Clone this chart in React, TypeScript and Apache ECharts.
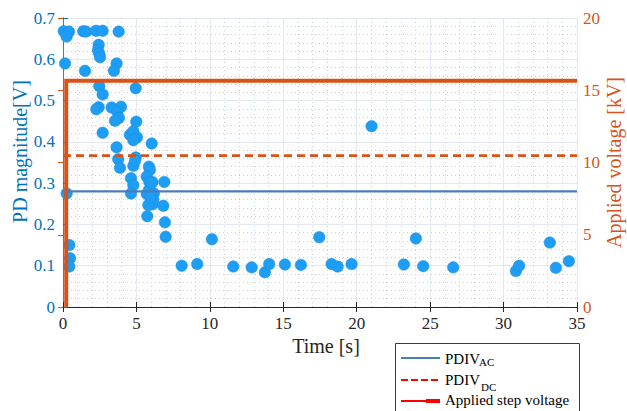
import React, { useEffect, useRef } from "react";
import * as echarts from "echarts";

// ---- data ----
const timeS: number[] = [
  0.05, 0.41, 0.25, 0.14, 1.38, 1.57, 1.5, 2.25, 2.7, 3.79,
  2.43, 2.38, 2.47, 2.52, 3.65, 3.47, 2.47, 2.7, 4.95, 2.43,
  2.27, 3.31, 3.95, 3.7, 3.81, 3.54, 4.99, 2.7, 4.56, 4.79,
  5.04, 4.79, 3.65, 6.04, 4.95, 3.76, 3.88, 4.79, 4.9, 5.85,
  5.92, 5.7, 4.63, 6.08, 6.9, 5.88, 4.79, 4.63, 0.25, 5.7,
  5.85, 6.19, 6.15, 6.1, 5.81, 5.74, 6.83, 6.94, 6.99, 6.04,
  5.95, 0.43, 0.48, 0.43, 8.08, 9.14, 10.14, 11.59, 12.85, 13.75,
  14.04, 15.11, 16.2, 17.45, 18.29, 18.7, 19.65, 21.01, 23.21, 24.03,
  24.53, 26.57, 30.84, 31.06, 33.15, 33.56, 34.45,
];
const pdV: number[] = [
  0.668, 0.667, 0.655, 0.59, 0.668, 0.667, 0.572, 0.669, 0.669, 0.667,
  0.635, 0.622, 0.614, 0.605, 0.59, 0.572, 0.535, 0.515, 0.53, 0.484,
  0.479, 0.483, 0.485, 0.473, 0.458, 0.451, 0.449, 0.422, 0.417, 0.426,
  0.411, 0.404, 0.387, 0.396, 0.362, 0.358, 0.337, 0.342, 0.354, 0.34,
  0.332, 0.316, 0.312, 0.303, 0.303, 0.303, 0.295, 0.275, 0.275, 0.274,
  0.283, 0.275, 0.259, 0.249, 0.247, 0.22, 0.245, 0.205, 0.17, 0.3,
  0.265, 0.15, 0.118, 0.098, 0.1, 0.104, 0.164, 0.098, 0.096, 0.084,
  0.104, 0.103, 0.102, 0.169, 0.104, 0.098, 0.104, 0.438, 0.103, 0.166,
  0.099, 0.096, 0.087, 0.1, 0.156, 0.095, 0.111,
];
const pdivAcKV = 8.0;
const pdivDcKV = 10.47;
const stepTimeS: number[] = [0.22, 0.22, 35];
const stepKV: number[] = [0, 15.65, 15.65];
const xRange: number[] = [0, 35];

const legendLabels = ["PDIV", "AC", "PDIV", "DC", "Applied step voltage"];

const FONT = "Liberation Serif";
const BLUE = "#0072BD";
const ORANGE = "#D95319";
const DARK = "#262626";

export default function App() {
  const ref = useRef<HTMLDivElement>(null);
  useEffect(() => {
    if (!ref.current) return;
    const chart = echarts.init(ref.current, undefined, { renderer: "svg" });
    const scatterData = timeS.map((t, i) => [t, pdV[i]]);
    const majorGrid = { show: true, lineStyle: { color: "#e3e9ef", width: 1.2 } };
    const minorGrid = { show: true, lineStyle: { color: "#c8d1da", width: 1, type: [1, 3] as any } };
    chart.setOption({
      animation: false,
      backgroundColor: "#fff",
      textStyle: { fontFamily: FONT },
      grid: { left: 63, right: 50, top: 18, bottom: 104, containLabel: false, outerBoundsMode: "none" },
      xAxis: [
        {
          type: "value",
          position: "bottom",
          min: 0,
          max: 35,
          interval: 5,
          name: "Time [s]",
          nameLocation: "middle",
          nameGap: 29,
          nameMoveOverlap: false,
          nameTextStyle: { fontFamily: FONT, fontSize: 20, color: DARK, padding: [0, 0, 0, 12] },
          axisLine: { show: true, lineStyle: { color: DARK, width: 1 } },
          axisTick: { show: true, inside: true, length: 5, lineStyle: { color: DARK } },
          axisLabel: { fontFamily: FONT, fontSize: 17, color: DARK, margin: 8 },
          splitLine: majorGrid,
          minorTick: { show: false, splitNumber: 5 },
          minorSplitLine: minorGrid,
        },
        {
          type: "value",
          position: "top",
          min: 0,
          max: 35,
          interval: 5,
          axisLine: { show: true, lineStyle: { color: DARK, width: 1 } },
          axisTick: { show: true, inside: true, length: 5, lineStyle: { color: DARK } },
          axisLabel: { show: false },
          splitLine: { show: false },
        },
      ],
      yAxis: [
        {
          type: "value",
          position: "left",
          min: 0,
          max: 0.7,
          interval: 0.1,
          name: "PD magnitude[V]",
          nameLocation: "middle",
          nameRotate: 90,
          nameGap: 33,
          nameMoveOverlap: false,
          nameTextStyle: { fontFamily: FONT, fontSize: 20, color: BLUE, padding: [0, 0, 0, 22] },
          axisLine: { show: true, lineStyle: { color: BLUE, width: 1 } },
          axisTick: { show: true, inside: true, length: 5, lineStyle: { color: BLUE } },
          axisLabel: { fontFamily: FONT, fontSize: 17, color: BLUE, margin: 8 },
          splitLine: majorGrid,
          minorTick: { show: false, splitNumber: 5 },
          minorSplitLine: minorGrid,
        },
        {
          type: "value",
          position: "right",
          min: 0,
          max: 20,
          interval: 5,
          name: "Applied voltage [kV]",
          nameLocation: "middle",
          nameRotate: 90,
          nameGap: 27,
          nameMoveOverlap: false,
          nameTextStyle: { fontFamily: FONT, fontSize: 20, color: ORANGE },
          axisLine: { show: true, lineStyle: { color: ORANGE, width: 1 } },
          axisTick: { show: true, inside: true, length: 5, lineStyle: { color: ORANGE } },
          axisLabel: { fontFamily: FONT, fontSize: 17, color: ORANGE, margin: 6 },
          splitLine: { show: false },
        },
      ],
      series: [
        {
          name: "PD",
          type: "scatter",
          xAxisIndex: 0,
          yAxisIndex: 0,
          data: scatterData,
          symbol: "circle",
          symbolSize: 11.5,
          itemStyle: { color: "#1d9df4", borderColor: "#1b8fe0", borderWidth: 0.5, opacity: 1 },
          z: 2,
        },
        {
          name: "PDIV AC",
          type: "line",
          xAxisIndex: 0,
          yAxisIndex: 1,
          data: xRange.map((t) => [t, pdivAcKV]),
          symbol: "none",
          lineStyle: { color: "#4a7ebb", width: 2.2 },
          z: 3,
        },
        {
          name: "PDIV DC",
          type: "line",
          xAxisIndex: 0,
          yAxisIndex: 1,
          data: xRange.map((t) => [t, pdivDcKV]),
          symbol: "none",
          lineStyle: { color: ORANGE, width: 2.8, type: [8, 5] },
          z: 3,
        },
        {
          name: "Applied step voltage",
          type: "line",
          xAxisIndex: 0,
          yAxisIndex: 1,
          data: stepTimeS.map((t, i) => [t, stepKV[i]]),
          symbol: "none",
          lineStyle: { color: ORANGE, width: 4, join: "miter" },
          z: 4,
        },
      ],
      graphic: [
        {
          type: "rect",
          shape: { x: 395.5, y: 343.5, width: 184, height: 80 },
          style: { fill: "#fff", stroke: "#3a3a3a", lineWidth: 1 },
          z: 10,
        },
        {
          type: "line",
          shape: { x1: 401, y1: 358, x2: 440, y2: 358 },
          style: { stroke: "#4a7ebb", lineWidth: 2 },
          z: 11,
        },
        {
          type: "line",
          shape: { x1: 401, y1: 380, x2: 440, y2: 380 },
          style: { stroke: "#ff0000", lineWidth: 2, lineDash: [7, 3] },
          z: 11,
        },
        {
          type: "line",
          shape: { x1: 401, y1: 401, x2: 427, y2: 401 },
          style: { stroke: "#ff0000", lineWidth: 2 },
          z: 11,
        },
        {
          type: "line",
          shape: { x1: 426, y1: 401, x2: 440, y2: 401 },
          style: { stroke: "#ff0000", lineWidth: 4 },
          z: 11,
        },
        {
          type: "text",
          x: 445,
          y: 359,
          style: { text: legendLabels[0], font: `15px '${FONT}'`, fill: "#000", verticalAlign: "middle", align: "left" },
          z: 11,
        },
        {
          type: "text",
          x: 479,
          y: 362,
          style: { text: legendLabels[1], font: `11px '${FONT}'`, fill: "#000", verticalAlign: "middle", align: "left" },
          z: 11,
        },
        {
          type: "text",
          x: 445,
          y: 380,
          style: { text: legendLabels[2], font: `15px '${FONT}'`, fill: "#000", verticalAlign: "middle", align: "left" },
          z: 11,
        },
        {
          type: "text",
          x: 481,
          y: 387,
          style: { text: legendLabels[3], font: `11px '${FONT}'`, fill: "#000", verticalAlign: "middle", align: "left" },
          z: 11,
        },
        {
          type: "text",
          x: 445,
          y: 400,
          style: { text: legendLabels[4], font: `15px '${FONT}'`, fill: "#000", verticalAlign: "middle", align: "left" },
          z: 11,
        },
      ],
    });
    return () => chart.dispose();
  }, []);
  return (
    <div
      ref={ref}
      style={{ position: "fixed", left: 0, top: 0, width: 627, height: 411, background: "#fff" }}
    />
  );
}
